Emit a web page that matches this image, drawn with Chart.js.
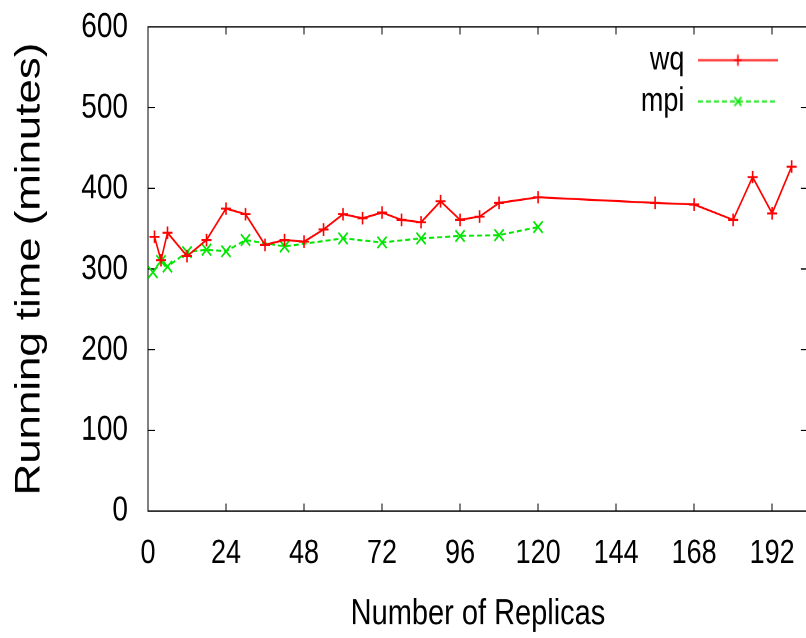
<!DOCTYPE html>
<html>
<head>
<meta charset="utf-8">
<script src="https://cdn.jsdelivr.net/npm/chart.js@4.4.0/dist/chart.umd.min.js"></script>
<style>
    html, body { margin: 0; padding: 0; background: #fff; }
    #wrap { width: 806px; height: 638px; overflow: hidden; }
    /* the original figure is stretched vertically, so the canvas is too */
    canvas { display: block; transform-origin: 0 0; transform: scale(1, 1.251); }
</style>
</head>
<body>
<div id="wrap"><canvas id="runChart" width="816" height="510"></canvas></div>
<script>
// DATA -----------------------------------------------------------------------

const wqReplicas = [2, 4, 6, 12, 18, 24, 30, 36, 42, 48, 54, 60, 66, 72, 78, 84, 90, 96, 102, 108, 120, 156, 168, 180, 186, 192, 198]
const wqMinutes = [340, 311, 345, 316, 336, 375, 368, 330, 336, 334, 349, 368, 363, 370, 361, 358, 384, 361, 365, 382, 389, 382, 380, 361, 414, 369, 427]

const mpiReplicas = [1.5, 4, 6, 12, 18, 24, 30, 42, 60, 72, 84, 96, 108, 120]
const mpiMinutes = [296, 310, 303, 321, 324, 322, 336, 328, 338, 333, 338, 341, 342, 352]

const xTickStep = 24
const yTickStep = 100

// SETTINGS -------------------------------------------------------------------

const font = "'Liberation Sans', Arial, sans-serif"

const series = {
    wq: {label: 'wq', color: '#ff0000', pointStyle: 'cross', radius: 5, dash: []},
    mpi: {label: 'mpi', color: '#00e600', pointStyle: 'crossRot', radius: 6.5, dash: [5, 3]}
}

// HELPER FUNCTIONS -----------------------------------------------------------

function toPoints(xs, ys) {
    return xs.map((x, i) => ({x: x, y: ys[i]}))
}

// little line + marker picture used as legend symbol
function legendSample(s) {
    const c = document.createElement('canvas')
    c.width = 80
    c.height = 12
    const ctx = c.getContext('2d')
    ctx.strokeStyle = s.color
    ctx.lineWidth = 1.6
    ctx.setLineDash(s.dash)
    ctx.beginPath()
    ctx.moveTo(0, 6)
    ctx.lineTo(80, 6)
    ctx.stroke()
    ctx.setLineDash([])
    ctx.beginPath()
    if (s.pointStyle === 'cross') {
        ctx.moveTo(40, 1.5); ctx.lineTo(40, 10.5)
        ctx.moveTo(36, 6); ctx.lineTo(44, 6)
    } else {
        ctx.moveTo(36.5, 2.5); ctx.lineTo(43.5, 9.5)
        ctx.moveTo(43.5, 2.5); ctx.lineTo(36.5, 9.5)
    }
    ctx.stroke()
    return c
}

function getDataset(key, xs, ys) {
    const s = series[key]
    return {
        label: s.label,
        data: toPoints(xs, ys),
        showLine: true,
        borderColor: s.color,
        backgroundColor: s.color,
        borderWidth: 1.6,
        borderDash: s.dash,
        pointStyle: s.pointStyle,
        pointRadius: s.radius,
        pointBorderWidth: 1.6,
        pointBorderColor: s.color,
        tension: 0,
        fill: false
    }
}

function keepSteps(step) {
    return (scale) => {
        scale.ticks = scale.ticks.filter(t => Math.abs(t.value % step) < 1e-6)
    }
}

// ticks pointing into the plot, gnuplot style
function inwardGrid(len) {
    return {drawOnChartArea: false, drawTicks: true, tickLength: -len, color: '#000', lineWidth: 1}
}

const border = {display: true, color: '#000', width: 1}

function fixHeight(h) {
    return (s) => { s.height = h; s.paddingLeft = 0; s.paddingRight = 0 }
}

function fixWidth(w) {
    return (s) => { s.width = w; s.paddingTop = 0; s.paddingBottom = 0 }
}

// legend sits inside the plot, top right
const legendPlacer = {
    id: 'legendPlacer',
    afterLayout(chart) {
        const lg = chart.legend
        const area = chart.chartArea
        const pad = lg.options.labels.padding
        const w = lg.width
        const h = lg.height
        lg.right = area.right - 30 + pad
        lg.left = lg.right - w
        lg.top = area.top + 7
        lg.bottom = lg.top + h
    }
}

// CHART ----------------------------------------------------------------------

Chart.defaults.font.family = font
Chart.defaults.color = '#000'

new Chart(document.getElementById('runChart'), {
    type: 'scatter',
    data: {
        datasets: [
            getDataset('wq', wqReplicas, wqMinutes),
            getDataset('mpi', mpiReplicas, mpiMinutes)
        ]
    },
    options: {
        responsive: false,
        animation: false,
        devicePixelRatio: 2,
        layout: {padding: {left: 0, top: 21.6, right: 6, bottom: 0}},
        plugins: {
            tooltip: {enabled: false},
            legend: {
                position: 'chartArea',
                align: 'start',
                rtl: true,
                labels: {
                    usePointStyle: true,
                    pointStyleWidth: 80,
                    padding: 6,
                    color: '#000',
                    font: {size: 27},
                    generateLabels: (chart) => ['wq', 'mpi'].map((key, i) => ({
                        text: series[key].label,
                        pointStyle: legendSample(series[key]),
                        fillStyle: series[key].color,
                        strokeStyle: series[key].color,
                        lineWidth: 0,
                        fontColor: '#000',
                        datasetIndex: i
                    }))
                }
            }
        },
        scales: {
            x: {
                type: 'linear',
                position: 'bottom',
                min: 0,
                max: 203,
                ticks: {stepSize: xTickStep, includeBounds: false, autoSkip: false, maxRotation: 0,
                    padding: 24, color: '#000', font: {size: 27}},
                afterBuildTicks: keepSteps(xTickStep),
                grid: inwardGrid(6),
                border: border,
                title: {display: true, text: 'Number of Replicas', color: '#000',
                    font: {size: 29}, padding: {top: 0, bottom: 1.5}},
                afterFit: fixHeight(101.5)
            },
            x2: {
                type: 'linear',
                position: 'top',
                min: 0,
                max: 203,
                ticks: {display: false, stepSize: xTickStep, includeBounds: false},
                afterBuildTicks: keepSteps(xTickStep),
                grid: inwardGrid(6),
                border: border,
                afterFit: fixHeight(0)
            },
            y: {
                type: 'linear',
                position: 'left',
                min: 0,
                max: 600,
                ticks: {stepSize: yTickStep, padding: 27, color: '#000', font: {size: 28}},
                grid: inwardGrid(7),
                border: border,
                title: {display: true, text: 'Running time (minutes)', color: '#000',
                    font: {size: 35}, padding: {top: 9, bottom: 0}},
                afterFit: fixWidth(148)
            },
            y2: {
                type: 'linear',
                position: 'right',
                min: 0,
                max: 600,
                ticks: {display: false, stepSize: yTickStep},
                grid: inwardGrid(7),
                border: border,
                afterFit: fixWidth(0)
            }
        }
    },
    plugins: [legendPlacer]
});
</script>
</body>
</html>
